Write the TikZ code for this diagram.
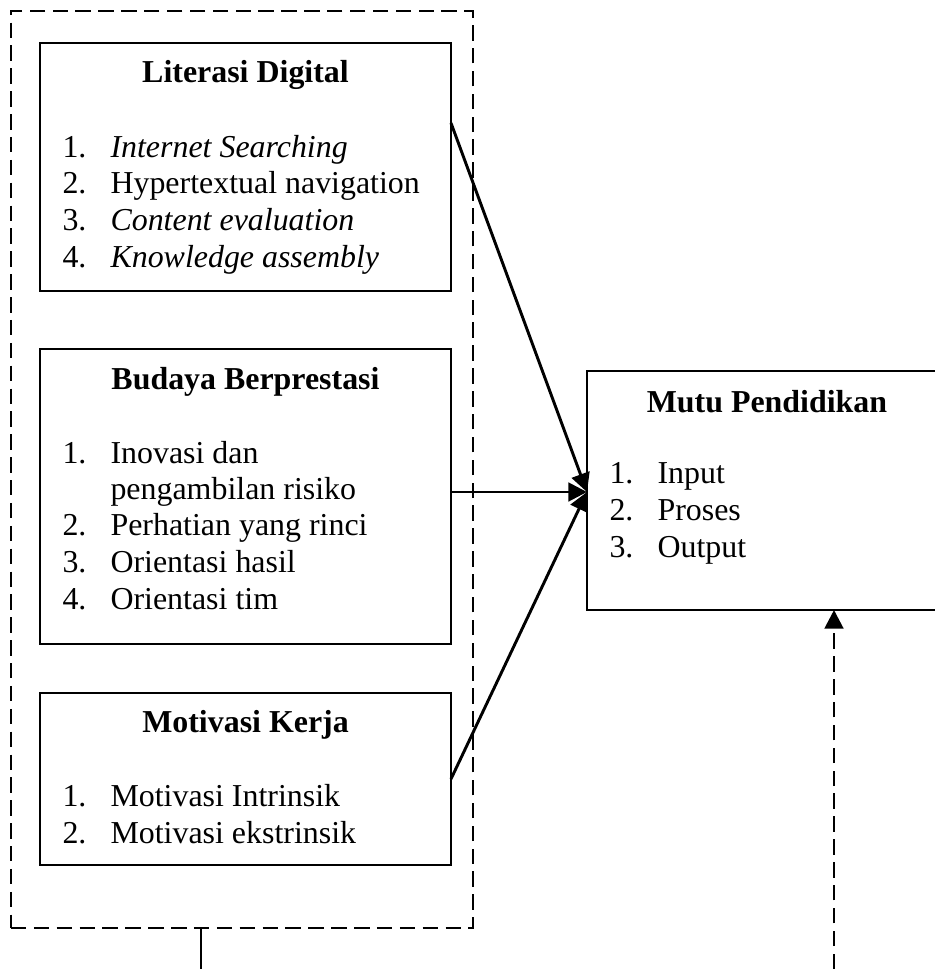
\documentclass[tikz,border=0pt]{standalone}
\usepackage{fontspec}
\setmainfont{Liberation Serif}
\usetikzlibrary{arrows.meta}
\newlength\pxu
\setlength\pxu{0.376pt}
\begin{document}
\begin{tikzpicture}[x=0.376pt,y=-0.376pt,
  font=\fontsize{12pt}{13.8pt}\selectfont,
  box/.style={draw, line width=0.8pt, rectangle, inner sep=0pt},
  outerbox/.style={draw, line width=0.8pt, dash pattern=on 5.8pt off 2.8pt, rectangle, inner sep=0pt},
  ttl/.style={anchor=base, inner sep=0pt, font=\fontsize{12pt}{13.8pt}\selectfont\bfseries},
  num/.style={anchor=base west, inner sep=0pt},
  itm/.style={anchor=base west, inner sep=0pt},
  arr/.style={line width=1.1pt, -{Triangle[length=7pt,width=7pt]}},
  darr/.style={line width=1.1pt, dash pattern=on 5.8pt off 2.8pt, -{Triangle[length=7pt,width=7pt]}}
]
\useasboundingbox (0,0) rectangle (935,969);
\clip (0,0) rectangle (935,969);

% outer dashed frame
\node[outerbox, minimum width=462\pxu, minimum height=917\pxu] (outer) at (242,469.5) {};

% Literasi Digital
\node[box, minimum width=411\pxu, minimum height=248\pxu] (lit) at (245.5,167) {};
\node[ttl] (litt) at (245.5,83) {Literasi Digital};
\node[num] (l1n) at (62,157) {1.};
\node[itm] (l1) at (110,157) {\itshape Internet Searching};
\node[num] (l2n) at (62,193.5) {2.};
\node[itm] (l2) at (110,193.5) {Hypertextual navigation};
\node[num] (l3n) at (62,230) {3.};
\node[itm] (l3) at (110,230) {\itshape Content evaluation};
\node[num] (l4n) at (62,267) {4.};
\node[itm] (l4) at (110,267) {\itshape Knowledge assembly};

% Budaya Berprestasi
\node[box, minimum width=411\pxu, minimum height=295\pxu] (bud) at (245.5,496.5) {};
\node[ttl] (budt) at (245.5,389) {Budaya Berprestasi};
\node[num] (b1n) at (62,463) {1.};
\node[itm] (b1) at (110,463) {Inovasi dan};
\node[itm] (b1b) at (110,499) {pengambilan risiko};
\node[num] (b2n) at (62,535.5) {2.};
\node[itm] (b2) at (110,535.5) {Perhatian yang rinci};
\node[num] (b3n) at (62,572) {3.};
\node[itm] (b3) at (110,572) {Orientasi hasil};
\node[num] (b4n) at (62,609) {4.};
\node[itm] (b4) at (110,609) {Orientasi tim};

% Motivasi Kerja
\node[box, minimum width=411\pxu, minimum height=172\pxu] (mot) at (245.5,779) {};
\node[ttl] (mott) at (245.5,732) {Motivasi Kerja};
\node[num] (m1n) at (62,806) {1.};
\node[itm] (m1) at (110,806) {Motivasi Intrinsik};
\node[num] (m2n) at (62,843) {2.};
\node[itm] (m2) at (110,843) {Motivasi ekstrinsik};

% Mutu Pendidikan
\node[box, minimum width=360\pxu, minimum height=239\pxu] (mutu) at (767,490.5) {};
\node[ttl] (mutut) at (767,412) {Mutu Pendidikan};
\node[num] (u1n) at (609,483) {1.};
\node[itm] (u1) at (657,483) {Input};
\node[num] (u2n) at (609,520) {2.};
\node[itm] (u2) at (657,520) {Proses};
\node[num] (u3n) at (609,557) {3.};
\node[itm] (u3) at (657,557) {Output};

% connector coordinates
\coordinate (litout) at (451,123);
\coordinate (budout) at (451,492);
\coordinate (motout) at (451,779);
\coordinate (tip) at (587,492);
\coordinate (outdown) at (201,928);
\coordinate (outend) at (201,969);
\coordinate (dstart) at (834,969);
\coordinate (dtip) at (834,610);

\draw[arr] (litout) -- (tip);
\draw[arr] (budout) -- (tip);
\draw[arr] (motout) -- (tip);
\draw[line width=0.8pt] (outdown) -- (outend);
\draw[darr] (dstart) -- (dtip);
\end{tikzpicture}
\end{document}
